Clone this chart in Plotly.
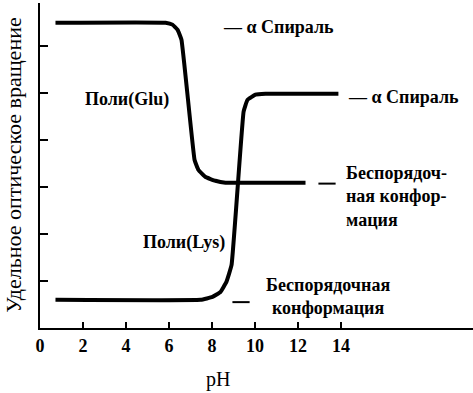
import plotly.graph_objects as go

# Data (pH, specific optical rotation in arbitrary units)
glu_ph = [0.72, 5.84, 6.16, 6.40, 6.58, 7.19, 7.37, 7.70, 8.16, 8.63, 12.35]
glu_rot = [6.49, 6.49, 6.45, 6.34, 6.13, 3.57, 3.36, 3.21, 3.13, 3.09, 3.09]

lys_ph = [0.72, 7.47, 8.02, 8.40, 8.67, 8.91, 9.47, 9.65, 10.02, 10.49, 13.88]
lys_rot = [0.60, 0.60, 0.66, 0.77, 0.98, 1.34, 4.60, 4.85, 4.96, 4.98, 4.98]

x_ticks = [0, 2, 4, 6, 8, 10, 12, 14]
y_ticks = [1, 2, 3, 4, 5, 6]

FONT = "Liberation Serif"

fig = go.Figure()
for xs, ys in [(glu_ph, glu_rot), (lys_ph, lys_rot)]:
    fig.add_trace(go.Scatter(x=xs, y=ys, mode="lines",
                             line=dict(color="black", width=4, shape="spline", smoothing=0.3),
                             showlegend=False, hoverinfo="skip"))

ann_font = dict(family=FONT, size=18, color="black", weight="bold")
annotations = [
    dict(x=8.40, y=6.40, text="— α Спираль", xanchor="left", yanchor="middle"),
    dict(x=2.02, y=4.85, text="Поли(Glu)", xanchor="left", yanchor="middle"),
    dict(x=14.21, y=4.91, text="— α Спираль", xanchor="left", yanchor="middle"),
    dict(x=14.12, y=3.55, text="Беспорядоч-<br>ная конфор-<br>мация", xanchor="left",
         yanchor="top", align="left"),
    dict(x=8.70, y=1.81, text="Поли(Lys)", xanchor="right", yanchor="middle"),
    dict(x=13.40, y=0.66, text="Беспорядочная<br>конформация", xanchor="center",
         yanchor="middle", align="center"),
]
for a in annotations:
    a.setdefault("font", ann_font)
    fig.add_annotation(xref="x", yref="y", showarrow=False, **a)

fig.add_annotation(xref="x", yref="paper", x=8.3, y=-0.158, text="pH", showarrow=False,
                   xanchor="center", yanchor="middle",
                   font=dict(family=FONT, size=20, color="black"))

# short dashes before the lower labels
for x0, x1, y in [(12.95, 13.75, 3.07), (8.95, 9.75, 0.55)]:
    fig.add_shape(type="line", xref="x", yref="y", x0=x0, x1=x1, y0=y, y1=y,
                  line=dict(color="black", width=2))

fig.add_annotation(xref="paper", yref="paper", x=-0.062, y=0.5, textangle=-90,
                   text="Удельное оптическое вращение", showarrow=False,
                   xanchor="center", yanchor="middle",
                   font=dict(family=FONT, size=22, color="black"))

fig.update_layout(
    width=473, height=393,
    margin=dict(l=40, r=0, t=3, b=65),
    plot_bgcolor="white", paper_bgcolor="white",
    xaxis=dict(range=[0, 20.14], tickvals=x_ticks, ticktext=[str(v) for v in x_ticks],
               ticks="inside", ticklen=6, tickwidth=1.5, tickcolor="black",
               showline=True, linecolor="black", linewidth=2,
               showgrid=False, zeroline=False,
               tickfont=dict(family=FONT, size=18, color="black", weight="bold")),
    yaxis=dict(range=[0, 6.91], tickvals=y_ticks, showticklabels=False,
               ticks="inside", ticklen=8, tickwidth=1.5, tickcolor="black",
               showline=True, linecolor="black", linewidth=2,
               showgrid=False, zeroline=False),
)

fig.write_html("out.html", config={"displayModeBar": False},
               post_script="document.body.style.margin='0';")
